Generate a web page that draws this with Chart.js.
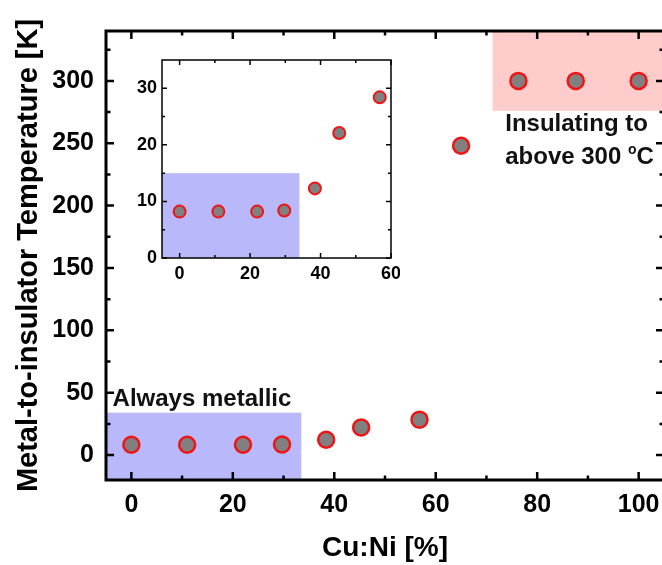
<!DOCTYPE html>
<html><head><meta charset="utf-8">
<script src="https://cdn.jsdelivr.net/npm/chart.js@4.4.1/dist/chart.umd.min.js"></script>
<style>
html,body{margin:0;padding:0;background:#fff;overflow:hidden;width:662px;height:565px}
#wrap{position:relative;width:670px;height:565px}
#main{position:absolute;left:0;top:0}
#inset{position:absolute;left:100px;top:50px}
</style></head><body>
<div id="wrap"><canvas id="main" width="670" height="565"></canvas><canvas id="inset" width="300" height="240"></canvas></div>
<script>
// ---- data ----
const cuNi = [0, 11, 22, 29.7, 38.4, 45.3, 56.8, 65, 76.3, 87.6, 100];
const mitTemp = [8.2, 8.2, 8.2, 8.4, 12.3, 22.1, 28.4, 248, 300, 300, 300];
const insetCuNi = [0, 11, 22, 29.7, 38.4, 45.3, 56.8];
const insetTemp = [8.2, 8.2, 8.2, 8.4, 12.3, 22.1, 28.4];
const xTicks = [0, 20, 40, 60, 80, 100];
const xMinor = [10, 30, 50, 70, 90];
const yTicks = [0, 50, 100, 150, 200, 250, 300];
const yMinor = [25, 75, 125, 175, 225, 275, 325];
const insetXTicks = [0, 20, 40, 60];
const insetXMinor = [10, 30, 50];
const insetYTicks = [0, 10, 20, 30];
const insetYMinor = [5, 15, 25];
const metallicRegion = {x: [-5, 33.5], y: [-20, 34]};
const insulatingRegion = {x: [71.2, 105], y: [276, 340]};
const insetMetallicRegion = {x: [-5, 34], y: [0, 15]};

const FAM = '"Liberation Sans", Arial, Helvetica, sans-serif';
const BLUE = 'rgb(184,184,250)';
const PINK = 'rgb(255,204,204)';

const framePlugin = {
  id: 'frame',
  beforeDatasetsDraw(chart, args, o) {
    const {ctx, chartArea: a, scales: {x, y}} = chart;
    ctx.save();
    ctx.beginPath(); ctx.rect(a.left, a.top, a.right - a.left, a.bottom - a.top); ctx.clip();
    (o.regions || []).forEach(r => {
      const x0 = x.getPixelForValue(r.x[0]), x1 = x.getPixelForValue(r.x[1]);
      const y0 = y.getPixelForValue(r.y[1]), y1 = y.getPixelForValue(r.y[0]);
      ctx.fillStyle = r.color;
      ctx.fillRect(x0, y0, x1 - x0, y1 - y0);
    });
    ctx.restore();
  },
  afterDraw(chart, args, o) {
    const {ctx, chartArea: a, scales: {x, y}} = chart;
    ctx.save();
    ctx.strokeStyle = '#000';
    ctx.lineWidth = o.tickWidth;
    const xt = (vals, len) => vals.forEach(v => {
      const p = x.getPixelForValue(v);
      ctx.beginPath();
      ctx.moveTo(p, a.bottom); ctx.lineTo(p, a.bottom - len);
      ctx.moveTo(p, a.top); ctx.lineTo(p, a.top + len);
      ctx.stroke();
    });
    const yt = (vals, len) => vals.forEach(v => {
      const p = y.getPixelForValue(v);
      ctx.beginPath();
      ctx.moveTo(a.left, p); ctx.lineTo(a.left + len, p);
      ctx.moveTo(a.right, p); ctx.lineTo(a.right - len, p);
      ctx.stroke();
    });
    xt(o.xMajor, o.majorLen); xt(o.xMinor, o.minorLen);
    yt(o.yMajor, o.majorLen); yt(o.yMinor, o.minorLen);
    ctx.lineWidth = o.frameWidth;
    ctx.strokeRect(a.left, a.top, a.right - a.left, a.bottom - a.top);
    ctx.fillStyle = '#111';
    ctx.textBaseline = 'alphabetic';
    ctx.textAlign = 'left';
    (o.texts || []).forEach(t => {
      let px = x.getPixelForValue(t.x);
      const py = y.getPixelForValue(t.y);
      t.parts.forEach(pt => {
        ctx.font = pt.font;
        ctx.fillText(pt.text, px, py + (pt.dy || 0));
        px += ctx.measureText(pt.text).width;
      });
    });
    ctx.restore();
  }
};

const big = 'bold 24px ' + FAM;
const sup = 'bold 14px ' + FAM;

new Chart(document.getElementById('main'), {
  type: 'scatter',
  data: {datasets: [{
    data: cuNi.map((v, i) => ({x: v, y: mitTemp[i]})),
    pointRadius: 8, pointHoverRadius: 8,
    backgroundColor: '#808080', borderColor: '#f01414', borderWidth: 2.5
  }]},
  options: {
    responsive: false, animation: false, events: [],
    layout: {autoPadding: false, padding: {top: 31, right: 6, left: 0, bottom: 0}},
    plugins: {
      legend: {display: false}, tooltip: {enabled: false},
      frame: {
        regions: [{...metallicRegion, color: BLUE}, {...insulatingRegion, color: PINK}],
        xMajor: xTicks, xMinor: xMinor, yMajor: yTicks, yMinor: yMinor,
        majorLen: 8, minorLen: 4.5, tickWidth: 2.5, frameWidth: 3,
        texts: [
          {x: -3.7, y: 39.2, parts: [{text: 'Always metallic', font: big}]},
          {x: 73.7, y: 260, parts: [{text: 'Insulating to', font: big}]},
          {x: 73.7, y: 233.6, parts: [{text: 'above 300 ', font: big}, {text: 'o', font: sup, dy: -10}, {text: 'C', font: big}]}
        ]
      }
    },
    scales: {
      x: {
        type: 'linear', min: -5, max: 105,
        afterBuildTicks: s => { s.ticks = xTicks.map(v => ({value: v})); },
        afterFit: s => { s.height = 85; s.paddingLeft = 0; s.paddingRight = 0; },
        grid: {display: false, drawTicks: false}, border: {display: false},
        ticks: {font: {size: 25, weight: 'bold', family: FAM}, color: '#000', padding: 10, maxRotation: 0, autoSkip: false},
        title: {display: true, text: 'Cu:Ni [%]', font: {size: 28, weight: 'bold', family: FAM}, color: '#000', padding: {top: 0, bottom: 0}}
      },
      y: {
        type: 'linear', min: -20, max: 340,
        afterBuildTicks: s => { s.ticks = yTicks.map(v => ({value: v})); },
        afterFit: s => { s.width = 106; s.paddingTop = 0; s.paddingBottom = 0; },
        grid: {display: false, drawTicks: false}, border: {display: false},
        ticks: {font: {size: 25, weight: 'bold', family: FAM}, color: '#000', padding: 12, autoSkip: false},
        title: {display: true, text: 'Metal-to-insulator Temperature [K]', font: {size: 29, weight: 'bold', family: FAM}, color: '#000', padding: {top: 12, bottom: 0}}
      }
    }
  },
  plugins: [framePlugin]
});

new Chart(document.getElementById('inset'), {
  type: 'scatter',
  data: {datasets: [{
    data: insetCuNi.map((v, i) => ({x: v, y: insetTemp[i]})),
    pointRadius: 6, pointHoverRadius: 6,
    backgroundColor: '#808080', borderColor: '#f01414', borderWidth: 2
  }]},
  options: {
    responsive: false, animation: false, events: [],
    layout: {autoPadding: false, padding: {top: 10, right: 9, left: 0, bottom: 0}},
    plugins: {
      legend: {display: false}, tooltip: {enabled: false},
      frame: {
        regions: [{...insetMetallicRegion, color: BLUE}],
        xMajor: insetXTicks, xMinor: insetXMinor, yMajor: insetYTicks, yMinor: insetYMinor,
        majorLen: 5, minorLen: 3, tickWidth: 1.5, frameWidth: 1.5, texts: []
      }
    },
    scales: {
      x: {
        type: 'linear', min: -5, max: 60,
        afterBuildTicks: s => { s.ticks = insetXTicks.map(v => ({value: v})); },
        afterFit: s => { s.height = 32; s.paddingLeft = 0; s.paddingRight = 0; },
        grid: {display: false, drawTicks: false}, border: {display: false},
        ticks: {font: {size: 18, weight: 'bold', family: FAM}, color: '#000', padding: 5, maxRotation: 0, autoSkip: false}
      },
      y: {
        type: 'linear', min: 0, max: 35,
        afterBuildTicks: s => { s.ticks = insetYTicks.map(v => ({value: v})); },
        afterFit: s => { s.width = 62; s.paddingTop = 0; s.paddingBottom = 0; },
        grid: {display: false, drawTicks: false}, border: {display: false},
        ticks: {font: {size: 18, weight: 'bold', family: FAM}, color: '#000', padding: 5, autoSkip: false}
      }
    }
  },
  plugins: [framePlugin]
});
</script>
</body></html>
